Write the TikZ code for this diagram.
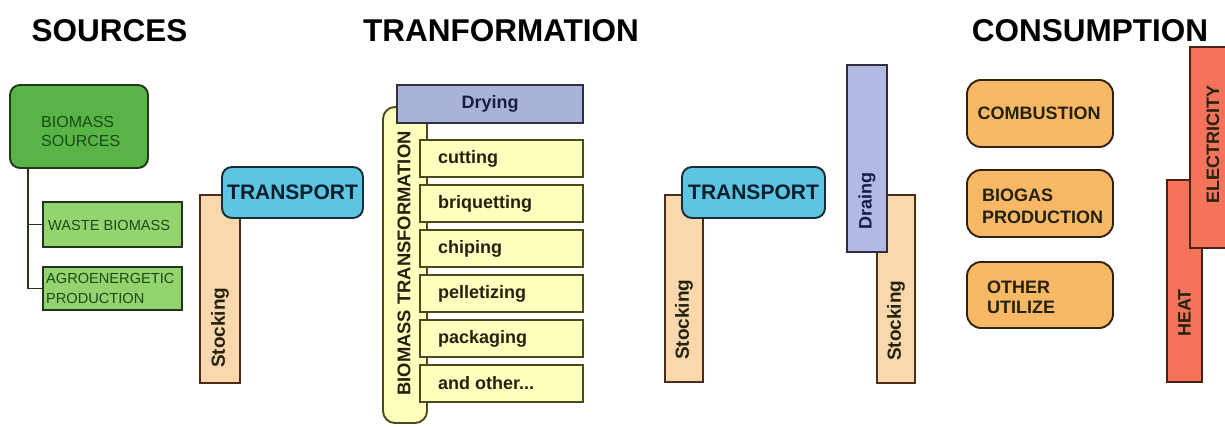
\documentclass[tikz,border=0pt]{standalone}
\usepackage{fontspec}
\setmainfont{Liberation Sans}
\definecolor{gdark}{HTML}{22361A}
\definecolor{gfill}{HTML}{58B446}
\definecolor{glight}{HTML}{93D46E}
\definecolor{gtext}{HTML}{1A4A16}
\definecolor{peach}{HTML}{FAD7AC}
\definecolor{brownb}{HTML}{4A2E1A}
\definecolor{cyanf}{HTML}{5CC6E2}
\definecolor{navyb}{HTML}{182C38}
\definecolor{navyt}{HTML}{0C1E2E}
\definecolor{lav}{HTML}{A9B3D8}
\definecolor{lav2}{HTML}{B3B9E2}
\definecolor{lavb}{HTML}{2E2E40}
\definecolor{lavt}{HTML}{161C44}
\definecolor{ylw}{HTML}{FFFFBE}
\definecolor{ylwb}{HTML}{4A4A1C}
\definecolor{orng}{HTML}{F9B865}
\definecolor{orngb}{HTML}{302210}
\definecolor{salm}{HTML}{F4735A}
\definecolor{salmb}{HTML}{4A2216}
\definecolor{dtext}{HTML}{22220E}
\begin{document}
\begin{tikzpicture}[x=1pt,y=-1pt,
  box/.style={draw, line width=1.9pt, rectangle, inner sep=0pt, outer sep=0pt},
  sz/.style 2 args={minimum width=#1pt, minimum height=#2pt},
  title/.style={font=\bfseries\fontsize{31.5}{34}\selectfont, text=black},
  small/.style={font=\fontsize{14.6}{20}\selectfont, text=gtext, align=left, inner sep=0pt},
  bold18/.style={font=\bfseries\fontsize{18}{21}\selectfont, inner sep=0pt},
  green1/.style={box, fill=gfill, draw=gdark, rounded corners=10pt},
  green2/.style={box, fill=glight, draw=gdark},
  stockbox/.style={box, fill=peach, draw=brownb},
  transbox/.style={box, fill=cyanf, draw=navyb, rounded corners=10pt},
  itembox/.style={box, fill=ylw, draw=ylwb},
  itemlab/.style={bold18, anchor=west, text=dtext},
  consbox/.style={box, fill=orng, draw=orngb, rounded corners=14pt},
  energybox/.style={box, fill=salm, draw=salmb},
  conn/.style={draw=gdark, line width=1.9pt}
]
\useasboundingbox (0,0) rectangle (1225,427);
\fill[white] (0,0) rectangle (1225,427);

% titles
\node[title] (tsrc) at (109.5,31) {SOURCES};
\node[title] (ttrans) at (501,31) {TRANFORMATION};
\node[title] (tcons) at (1090,31) {CONSUMPTION};

% sources
\node[green1, sz={138}{83}] (bs) at (79,126.5) {};
\node[small, anchor=west, font=\fontsize{16}{19}\selectfont] (bslab) at (41,131) {BIOMASS\\SOURCES};
\draw[conn] ([xshift=18pt]bs.south west) |- (43,224.5) coordinate (wjoin);
\draw[conn] ([xshift=18pt]bs.south west) |- (43,288.5) coordinate (ajoin);
\node[green2, sz={139}{45}] (waste) at (112.5,224.5) {};
\node[small, anchor=west] (wlab) at (48,225.5) {WASTE BIOMASS};
\node[green2, sz={139}{43}] (agro) at (112.5,288.5) {};
\node[small, anchor=west] (alab) at (46,288.5) {AGROENERGETIC\\PRODUCTION};

% stocking 1 + transport 1
\node[stockbox, sz={40}{188}] (st1) at (220,289) {};
\node[bold18, rotate=90, anchor=west, text=dtext, font=\bfseries\fontsize{19}{21}\selectfont] (st1lab) at ([yshift=15pt]st1.south) {Stocking};
\node[transbox, sz={141}{51}, font=\bfseries\fontsize{21}{24}\selectfont, text=navyt] (tr1) at (292.5,192.5) {TRANSPORT};

% transformation
\node[box, fill=ylw, draw=ylwb, rounded corners=12pt, sz={44}{316}] (bt) at (405,265) {};
\node[bold18, rotate=90, text=dtext, font=\bfseries\fontsize{18.4}{21}\selectfont] (btlab) at (404,263.5) {BIOMASS TRANSFORMATION};
\node[box, fill=lav, draw=lavb, sz={186}{38}, bold18, text=lavt] (dry) at (490,104) {Drying};
\node[itembox, sz={163}{37}] (cut) at (501.5,158.5) {};
\node[itemlab] (cutlab) at ([xshift=18pt]cut.west) {cutting};
\node[itembox, sz={163}{37}] (briq) at (501.5,203.5) {};
\node[itemlab] (briqlab) at ([xshift=18pt]briq.west) {briquetting};
\node[itembox, sz={163}{37}] (chip) at (501.5,248.5) {};
\node[itemlab] (chiplab) at ([xshift=18pt]chip.west) {chiping};
\node[itembox, sz={163}{37}] (pell) at (501.5,293.5) {};
\node[itemlab] (pelllab) at ([xshift=18pt]pell.west) {pelletizing};
\node[itembox, sz={163}{37}] (pack) at (501.5,338.5) {};
\node[itemlab] (packlab) at ([xshift=18pt]pack.west) {packaging};
\node[itembox, sz={163}{37}] (oth) at (501.5,383.5) {};
\node[itemlab] (othlab) at ([xshift=18pt]oth.west) {and other...};

% stocking 2 + transport 2
\node[stockbox, sz={38}{187}] (st2) at (684,288.5) {};
\node[bold18, rotate=90, anchor=west, text=dtext, font=\bfseries\fontsize{19}{21}\selectfont] (st2lab) at ([yshift=22pt]st2.south) {Stocking};
\node[transbox, sz={143}{51}, font=\bfseries\fontsize{21}{24}\selectfont, text=navyt] (tr2) at (753.5,192.5) {TRANSPORT};

% stocking 3 + draing
\node[stockbox, sz={38}{188}] (st3) at (896,289) {};
\node[bold18, rotate=90, anchor=west, text=dtext, font=\bfseries\fontsize{19}{21}\selectfont] (st3lab) at ([yshift=22pt]st3.south) {Stocking};
\node[box, fill=lav2, draw=lavb, sz={40}{187}] (dr) at (867,158.5) {};
\node[bold18, rotate=90, anchor=west, text=lavt] (drlab) at ([yshift=22pt]dr.south) {Draing};

% consumption
\node[consbox, sz={146}{67}] (comb) at (1040,113.5) {};
\node[bold18, text=dtext] (comblab) at (1039,113.5) {COMBUSTION};
\node[consbox, sz={146}{67}] (biog) at (1040,203.5) {};
\node[bold18, anchor=west, text=dtext, align=left, font=\bfseries\fontsize{18}{22}\selectfont] (bioglab) at (982,206) {BIOGAS\\PRODUCTION};
\node[consbox, sz={146}{66}] (othu) at (1040,295) {};
\node[bold18, anchor=west, text=dtext, align=left, font=\bfseries\fontsize{18}{20}\selectfont] (othulab) at (987,297) {OTHER\\UTILIZE};

% energy
\node[energybox, sz={35}{202}] (heat) at (1184.5,281) {};
\node[bold18, rotate=90, anchor=west, text=dtext] (heatlab) at ([yshift=45pt]heat.south) {HEAT};
\node[energybox, sz={50}{201}] (elec) at (1215,147.5) {};
\node[bold18, rotate=90, text=dtext] (eleclab) at (1213,145) {ELECTRICITY};
\end{tikzpicture}
\end{document}
